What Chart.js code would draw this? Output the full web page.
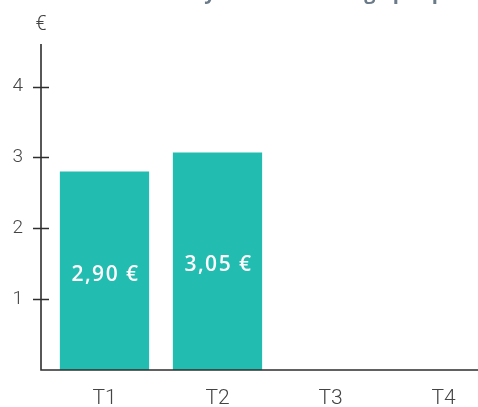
<!DOCTYPE html>
<html>
<head>
<meta charset="utf-8">
<script src="https://cdn.jsdelivr.net/npm/chart.js@4/dist/chart.umd.min.js"></script>
<style>
  html, body { margin: 0; padding: 0; background: #fff; overflow: hidden; }
  #wrap { position: relative; width: 500px; height: 407px; }
</style>
</head>
<body>
<div id="wrap"><canvas id="chart"></canvas></div>
<script>
// Chart data
const quarters = ["T1", "T2", "T3", "T4"];
const prices = [2.8, 3.07, null, null];
const priceLabels = ["2,90 €", "3,05 €", "", ""];
const yTicks = [1, 2, 3, 4];
const chartTitle = "Évolution du coût moyen de la recharge par période";

const barColor = "#22bcb0";
const axisColor = "#2e2e2e";
const textColor = "#444444";

// Draws the axis lines with crossing tick marks, the € unit, the bar values and the cut-off title
const decorPlugin = {
  id: "decor",
  afterDatasetsDraw(chart) {
    const { ctx, chartArea, scales } = chart;
    const axisX = chartArea.left - 7;
    ctx.save();
    ctx.strokeStyle = axisColor;
    ctx.lineWidth = 1.6;
    ctx.beginPath();
    ctx.moveTo(axisX, chartArea.top);
    ctx.lineTo(axisX, chartArea.bottom);
    ctx.lineTo(chartArea.right, chartArea.bottom);
    yTicks.forEach((v) => {
      const y = Math.round(scales.y.getPixelForValue(v)) + 0.5;
      ctx.moveTo(axisX - 8, y);
      ctx.lineTo(axisX + 8, y);
    });
    ctx.stroke();

    ctx.fillStyle = textColor;
    ctx.font = "300 20px Roboto";
    ctx.textAlign = "center";
    ctx.textBaseline = "middle";
    ctx.fillText("€", axisX, 25);

    // values inside the bars
    const meta = chart.getDatasetMeta(0);
    ctx.fillStyle = "#ffffff";
    ctx.font = "600 21px 'Open Sans'";
    ctx.letterSpacing = "1.5px";
    meta.data.forEach((bar, i) => {
      if (!priceLabels[i]) return;
      const mid = (bar.y + bar.base) / 2 + 4;
      ctx.fillText(priceLabels[i], bar.x + 1, mid);
    });
    ctx.letterSpacing = "0px";

    // title, only its lower edge is visible
    ctx.fillStyle = "#6b7a89";
    ctx.font = "bold 20px 'Open Sans'";
    ctx.textBaseline = "alphabetic";
    ctx.fillText(chartTitle, 250, -1);
    ctx.restore();
  }
};

new Chart(document.getElementById("chart"), {
  type: "bar",
  data: {
    labels: quarters,
    datasets: [{
      data: prices,
      backgroundColor: barColor,
      borderWidth: 0,
      barPercentage: 0.79,
      categoryPercentage: 1
    }]
  },
  options: {
    responsive: true,
    maintainAspectRatio: false,
    animation: false,
    layout: { padding: { top: 44, right: 0, left: 0, bottom: 0 } },
    plugins: {
      legend: { display: false },
      tooltip: { enabled: false }
    },
    scales: {
      x: {
        grid: { display: false, drawTicks: false },
        border: { display: false },
        ticks: {
          color: textColor,
          font: { family: "Roboto", weight: "300", size: 21 },
          padding: 16
        },
        afterFit(scale) { scale.height = 37; }
      },
      y: {
        min: 0,
        max: 4.6,
        grid: { display: false, drawTicks: false },
        border: { display: false },
        ticks: {
          color: textColor,
          font: { family: "Roboto", weight: "300", size: 19 },
          padding: 25
        },
        afterBuildTicks(scale) {
          scale.ticks = yTicks.map((v) => ({ value: v }));
        },
        afterFit(scale) { scale.width = 48; }
      }
    }
  },
  plugins: [decorPlugin]
});
</script>
</body>
</html>
